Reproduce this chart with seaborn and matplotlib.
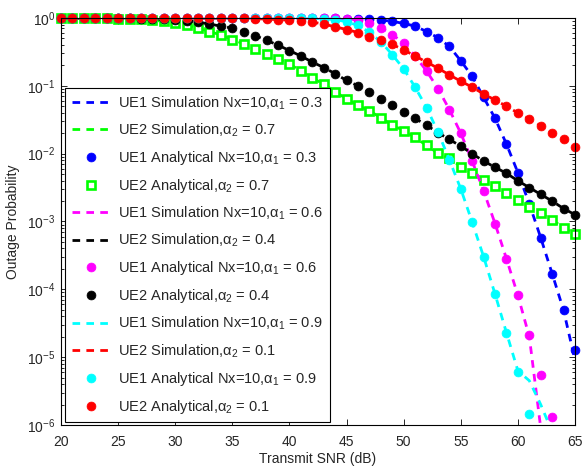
import numpy as np
import matplotlib
matplotlib.use("Agg")
import matplotlib.pyplot as plt
import seaborn as sns

# Transmit SNR grid (dB)
snr_db = list(range(20, 66))

# UE1, alpha1 = 0.3 (analytical)
ue1_a03_ana = [1.0] * 21 + [0.998, 0.996, 0.993, 0.988, 0.977, 0.966, 0.955, 0.933, 0.891, 0.832,
                            0.759, 0.631, 0.513, 0.380, 0.234, 0.138, 0.0676, 0.0331, 0.0138, 5.25e-3,
                            1.82e-3, 5.75e-4, 1.70e-4, 4.90e-5, 1.26e-5]
ue1_a03_sim = ue1_a03_ana[:-1] + [9.0e-6]

# UE2, alpha2 = 0.7
ue2_a07_ana = [0.998, 0.997, 0.995, 0.992, 0.988, 0.982, 0.972, 0.960, 0.933, 0.891,
               0.832, 0.776, 0.708, 0.631, 0.562, 0.479, 0.417, 0.347, 0.295, 0.245,
               0.209, 0.166, 0.129, 0.107, 0.0813, 0.0646, 0.0513, 0.0427, 0.0339, 0.0263,
               0.0219, 0.0174, 0.0132, 0.0102, 8.51e-3, 6.46e-3, 5.25e-3, 4.07e-3, 3.31e-3, 2.63e-3,
               2.04e-3, 1.62e-3, 1.32e-3, 1.05e-3, 8.13e-4, 6.46e-4]
ue2_a07_sim = list(ue2_a07_ana)

# UE1, alpha1 = 0.6
ue1_a06_ana = [1.0] * 21 + [0.999, 0.998, 0.995, 0.989, 0.977, 0.923, 0.832, 0.716, 0.569, 0.427,
                            0.275, 0.166, 0.0912, 0.0447, 0.0200, 7.76e-3, 2.82e-3, 9.33e-4, 2.82e-4, 8.13e-5,
                            2.14e-5, 5.5e-6, 1.32e-6]
snr_ue1_a06 = snr_db[:len(ue1_a06_ana)]
ue1_a06_sim = ue1_a06_ana[:-3] + [2.0e-5, 9.0e-7, 5.0e-8]

# UE2, alpha2 = 0.4
ue2_a04_ana = [0.998, 0.997, 0.996, 0.995, 0.993, 0.990, 0.986, 0.980, 0.970, 0.955,
               0.933, 0.912, 0.871, 0.813, 0.759, 0.708, 0.631, 0.550, 0.468, 0.398,
               0.331, 0.275, 0.224, 0.186, 0.151, 0.120, 0.100, 0.0813, 0.0646, 0.0513,
               0.0417, 0.0331, 0.0263, 0.0204, 0.0162, 0.0129, 0.0100, 7.76e-3, 6.31e-3, 5.13e-3,
               3.98e-3, 3.16e-3, 2.51e-3, 2.00e-3, 1.55e-3, 1.26e-3]
ue2_a04_sim = list(ue2_a04_ana)

# UE1, alpha1 = 0.9
ue1_a09_ana = [1.0] * 19 + [0.999, 0.998, 0.996, 0.989, 0.973, 0.944, 0.881, 0.776, 0.617, 0.447,
                            0.288, 0.178, 0.0955, 0.0479, 0.0209, 8.13e-3, 3.02e-3, 9.77e-4, 3.02e-4, 8.51e-5,
                            2.29e-5, 6.03e-6, 1.45e-6]
snr_ue1_a09 = snr_db[:len(ue1_a09_ana)]
ue1_a09_sim = ue1_a09_ana[:-2] + [6.3e-6, 4.5e-6, 2.0e-6, 7.9e-7]
snr_ue1_a09_sim = snr_db[:len(ue1_a09_sim)]

# UE2, alpha2 = 0.1
ue2_a01_ana = [1.0] * 15 + [0.993, 0.986, 0.977, 0.964, 0.946, 0.927, 0.902, 0.871, 0.813, 0.741,
                            0.676, 0.610, 0.531, 0.468, 0.407, 0.339, 0.275, 0.224, 0.182, 0.145,
                            0.117, 0.0955, 0.0759, 0.0617, 0.0501, 0.0398, 0.0324, 0.0257, 0.0204, 0.0162,
                            0.0126]
ue2_a01_sim = list(ue2_a01_ana)

sns.set_theme(style="ticks")
plt.rcParams.update({
    "font.family": ["Liberation Sans", "DejaVu Sans"],
    "mathtext.fontset": "custom",
    "mathtext.rm": "Liberation Sans",
    "mathtext.it": "Liberation Sans:italic",
    "mathtext.default": "regular",
    "lines.scale_dashes": False,
    "axes.edgecolor": "black",
    "axes.linewidth": 0.8,
})

fig = plt.figure(figsize=(5.83, 4.67), dpi=100)
ax = fig.add_axes([0.1046, 0.0899, 0.8817, 0.8716])
ax.set_yscale("log")

dash = (0, (5.5, 4.5))
LW = 2.0
MS = 6.4
FS = 10


def sim_line(x, y, color, label):
    sns.lineplot(x=x, y=y, color=color, linestyle=dash, linewidth=LW,
                 label=label, ax=ax, legend=False)


def ana_dots(x, y, color, label, square=False):
    if square:
        sns.lineplot(x=x, y=y, color=color, linestyle="", marker="s",
                     markersize=5.5, markerfacecolor="white", markeredgecolor=color,
                     markeredgewidth=1.9, label=label, ax=ax, legend=False, clip_on=False)
    else:
        sns.lineplot(x=x, y=y, color=color, linestyle="", marker="o",
                     markersize=MS, markerfacecolor=color, markeredgecolor=color,
                     markeredgewidth=0.5, label=label, ax=ax, legend=False, clip_on=False)


blue, green, magenta, black, cyan, red = "#0000ff", "#00ff00", "#ff00ff", "#000000", "#00ffff", "#ff0000"

sim_line(snr_db, ue1_a03_sim, blue, r"UE1 Simulation Nx=10,$\alpha_1$ = 0.3")
sim_line(snr_db, ue2_a07_sim, green, r"UE2 Simulation,$\alpha_2$ = 0.7")
ana_dots(snr_db, ue1_a03_ana, blue, r"UE1 Analytical Nx=10,$\alpha_1$ = 0.3")
ana_dots(snr_db, ue2_a07_ana, green, r"UE2 Analytical,$\alpha_2$ = 0.7", square=True)
sim_line(snr_ue1_a06, ue1_a06_sim, magenta, r"UE1 Simulation Nx=10,$\alpha_1$ = 0.6")
sim_line(snr_db, ue2_a04_sim, black, r"UE2 Simulation,$\alpha_2$ = 0.4")
ana_dots(snr_ue1_a06, ue1_a06_ana, magenta, r"UE1 Analytical Nx=10,$\alpha_1$ = 0.6")
ana_dots(snr_db, ue2_a04_ana, black, r"UE2 Analytical,$\alpha_2$ = 0.4")
sim_line(snr_ue1_a09_sim, ue1_a09_sim, cyan, r"UE1 Simulation Nx=10,$\alpha_1$ = 0.9")
sim_line(snr_db, ue2_a01_sim, red, r"UE2 Simulation,$\alpha_2$ = 0.1")
ana_dots(snr_ue1_a09, ue1_a09_ana, cyan, r"UE1 Analytical Nx=10,$\alpha_1$ = 0.9")
ana_dots(snr_db, ue2_a01_ana, red, r"UE2 Analytical,$\alpha_2$ = 0.1")

ax.set_xlim(20, 65)
ax.set_ylim(1e-6, 1)
ax.set_xticks(range(20, 66, 5))
ax.set_xlabel("Transmit SNR (dB)", fontsize=FS, labelpad=2)
ax.set_ylabel("Outage Probability", fontsize=FS, labelpad=5)
ax.tick_params(which="both", direction="in", top=True, right=True, labelsize=FS, width=0.7)
ax.tick_params(which="major", length=4)
ax.tick_params(which="minor", length=2.2)
ax.tick_params(axis="x", which="major", pad=7)
ax.tick_params(axis="y", which="major", pad=4)
ax.tick_params(axis="x", which="minor", bottom=False, top=False)
for s in ax.spines.values():
    s.set_visible(True)
    s.set_color("black")

handles, labels = ax.get_legend_handles_labels()
leg = ax.legend(handles, labels, loc="lower left", bbox_to_anchor=(0.008, 0.007),
                borderaxespad=0, fontsize=10.5, numpoints=1, handlelength=2.6,
                handletextpad=0.6, labelspacing=0.68, borderpad=0.45,
                fancybox=False, framealpha=1, edgecolor="black")
leg.get_frame().set_linewidth(0.8)

fig.savefig("out.png", dpi=100)
